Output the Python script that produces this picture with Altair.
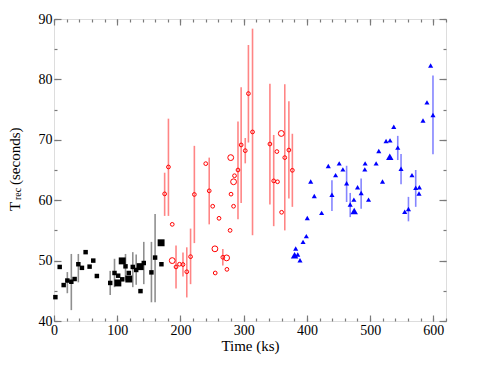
import altair as alt
import pandas as pd

# ---------------- data ----------------
black_t = [2.2, 9.0, 15.3, 21.1, 27.4, 32.6, 38.5, 44.2, 50.0, 56.3, 62.1, 67.8, 88.9, 95.7, 101.0,
           101.5, 107.9, 107.9, 113.1, 118.3, 118.3, 124.6, 130.0, 136.3, 136.8, 142.0, 154.1, 159.9,
           169.4, 169.9]
black_v = [43.95, 48.95, 45.95, 46.7, 46.5, 46.95, 49.4, 48.8, 51.4, 49.0, 50.0, 47.45, 46.3, 47.95,
           46.3, 47.5, 49.95, 46.9, 49.05, 46.95, 47.95, 48.95, 48.45, 49.0, 44.95, 49.6, 48.05, 50.5,
           52.95, 49.4]
black_large = [i in (14, 16, 19, 23, 28) for i in range(len(black_t))]

red_t = [175, 181, 187, 187, 193, 198.5, 204, 210, 216, 222, 240, 245.5, 251, 254.5, 255, 261, 267,
         273, 273.5, 278.5, 279.5, 280, 284, 284, 285.5, 291, 296, 302.5, 307.5, 314, 341.5, 347.5,
         352.5, 353.5, 359.5, 360, 365, 371.5, 377]
red_v = [61.05, 65.5, 56.0, 50.0, 48.95, 49.4, 49.35, 48.15, 50.65, 60.95, 66.05, 61.55, 59.0, 51.95,
         47.95, 57.0, 50.55, 50.45, 48.55, 55.0, 67.05, 61.0, 59.0, 63.05, 64.05, 65.0, 69.15, 68.2,
         77.65, 71.3, 69.3, 63.2, 68.05, 63.05, 71.05, 58.0, 67.05, 68.3, 64.95]
red_large = [i in (3, 13, 17, 20, 23, 34) for i in range(len(red_t))]

blue_t = [382.3, 380.5, 385.5, 389.1, 393.9, 399.1, 400.6, 406.0, 411.7, 423.3, 433.8, 439.6, 445.4,
          451.1, 456.9, 462.8, 468.5, 474.3, 474.8, 480.1, 485.8, 491.6, 492.1, 497.5, 509.5, 513.7,
          519.6, 525.2, 531.5, 531.1, 537.4, 543.7, 548.9, 554.7, 560.6, 566.2, 572.1, 577.9, 577.3,
          583.6, 589.9, 595.7, 599.4]
blue_v = [52.0, 50.9, 51.0, 50.05, 53.1, 54.05, 57.05, 63.1, 60.7, 57.9, 65.65, 60.9, 64.15, 66.1,
          65.1, 62.8, 59.3, 60.1, 58.2, 62.15, 61.2, 65.1, 66.1, 60.1, 66.1, 68.15, 63.1, 69.8, 69.9,
          67.2, 72.15, 68.7, 65.2, 58.1, 58.55, 64.15, 62.05, 62.15, 61.1, 73.2, 76.2, 82.3, 74.1]
blue_large = [i in (1, 18, 29) for i in range(len(blue_t))]

err_series = (["black"] * 11) + (["red"] * 19) + (["blue"] * 9)
err_t = [21.1, 27.4, 38.5, 88.9, 95.7, 113.1, 124.6, 130.0, 142.0, 154.1, 159.9,
         175, 181, 193, 204, 210, 216, 222, 245.5, 267, 291, 296, 302.5, 307.5, 314, 341.5, 347.5,
         365, 371.5, 377,
         439.6, 462.8, 468.5, 485.8, 543.7, 548.9, 560.6, 572.1, 599.4]
err_lo = [44.6, 41.8, 46.4, 44.3, 45.6, 46.7, 45.6, 46.0, 46.1, 43.1, 43.1,
          57.4, 57.4, 45.4, 47.35, 43.9, 46.1, 52.9, 56.0, 49.2, 56.85, 59.55, 66.1, 69.55, 54.2,
          59.3, 55.7, 55.0, 60.3, 58.9,
          58.2, 59.7, 57.2, 58.6, 66.65, 62.65, 56.5, 58.9, 67.6]
err_hi = [48.1, 51.1, 51.1, 48.3, 50.3, 51.1, 51.4, 51.0, 53.1, 53.1, 57.7,
          64.55, 73.5, 52.5, 51.35, 52.2, 55.3, 69.0, 67.05, 51.9, 73.05, 78.7, 70.3, 85.7, 88.4,
          79.3, 70.8, 79.2, 76.4, 71.0,
          63.3, 65.7, 61.2, 63.6, 70.65, 67.65, 60.55, 65.0, 80.65]

x_major = [0, 100, 200, 300, 400, 500, 600]
x_minor = list(range(0, 621, 20))
y_major = [40, 50, 60, 70, 80, 90]
y_minor = list(range(40, 91, 5))

x_title = "Time (ks)"
y_title_parts = ["T", "rec", "(seconds)"]

# ---------------- layout / style ----------------
FONT = "Liberation Serif"
W, H = 392, 302
XDOM = [0, 620]
YDOM = [40, 90]
FRAME = "#7a7a7a"

df_black = pd.DataFrame({"t": black_t, "v": black_v, "large": black_large})
df_red = pd.DataFrame({"t": red_t, "v": red_v, "large": red_large})
df_blue = pd.DataFrame({"t": blue_t, "v": blue_v, "large": blue_large})
df_err = pd.DataFrame({"series": err_series, "t": err_t, "lo": err_lo, "hi": err_hi})

tick_style = dict(domain=False, grid=False, tickColor=FRAME, tickWidth=1.2)


def xenc(axis):
    return alt.X("t:Q", scale=alt.Scale(domain=XDOM, nice=False, zero=False), axis=axis)


def yenc(field, axis):
    return alt.Y(f"{field}:Q", scale=alt.Scale(domain=YDOM, nice=False, zero=False), axis=axis)


ax_bottom = alt.Axis(orient="bottom", values=x_major, tickSize=6, offset=-6, labelFont=FONT,
                     labelFontSize=14, labelColor="black", labelPadding=2, labelFlush=False,
                     title=x_title, titleFont=FONT, titleFontSize=15, titleFontWeight="normal",
                     titleColor="black", titlePadding=1, **tick_style)
ax_left = alt.Axis(orient="left", values=y_major, tickSize=7, offset=-7, labelFont=FONT,
                   labelFontSize=14, labelColor="black", labelPadding=2, labelFlush=False,
                   title="", **tick_style)
ax_bottom_minor = alt.Axis(orient="bottom", values=x_minor, tickSize=3, offset=-3, labels=False,
                           title="", **tick_style)
ax_left_minor = alt.Axis(orient="left", values=y_minor, tickSize=3, offset=-3, labels=False,
                         title="", **tick_style)
ax_top = alt.Axis(orient="top", values=x_major, tickSize=6, offset=-6, labels=False, title="",
                  **tick_style)
ax_right = alt.Axis(orient="right", values=y_major, tickSize=7, offset=-7, labels=False, title="",
                    **tick_style)
ax_top_minor = alt.Axis(orient="top", values=x_minor, tickSize=3, offset=-3, labels=False,
                        title="", **tick_style)
ax_right_minor = alt.Axis(orient="right", values=y_minor, tickSize=3, offset=-3, labels=False,
                          title="", **tick_style)

rules = alt.Chart(df_err).mark_rule(strokeWidth=1.6, opacity=0.55).encode(
    x=xenc(ax_bottom),
    y=yenc("lo", ax_left),
    y2="hi:Q",
    color=alt.Color("series:N", scale=alt.Scale(domain=["black", "red", "blue"],
                                                range=["#333333", "#ff2020", "#2020ff"]),
                    legend=None),
)

black_pts = alt.Chart(df_black).mark_point(shape="square", filled=True, color="black",
                                           opacity=1).encode(
    x=xenc(ax_bottom_minor),
    y=yenc("v", ax_left_minor),
    size=alt.Size("large:N", scale=alt.Scale(domain=[False, True], range=[20, 48]), legend=None),
)

red_pts = alt.Chart(df_red).mark_point(shape="circle", filled=False, color="#ff0000",
                                       strokeWidth=1, opacity=1).encode(
    x=xenc(ax_top),
    y=yenc("v", ax_right),
    size=alt.Size("large:N", scale=alt.Scale(domain=[False, True], range=[14, 34]), legend=None),
)

blue_pts = alt.Chart(df_blue).mark_point(shape="triangle-up", filled=True, color="#0000ff",
                                         opacity=1).encode(
    x=xenc(ax_top_minor),
    y=yenc("v", ax_right_minor),
    size=alt.Size("large:N", scale=alt.Scale(domain=[False, True], range=[26, 56]), legend=None),
)

t1 = alt.Chart(pd.DataFrame({"s": [y_title_parts[0]]})).mark_text(
    angle=270, align="left", baseline="middle", font=FONT, fontSize=15, color="black").encode(
    text="s:N", x=alt.value(-39), y=alt.value(192))
t2 = alt.Chart(pd.DataFrame({"s": [y_title_parts[1]]})).mark_text(
    angle=270, align="left", baseline="middle", font=FONT, fontSize=10, color="black").encode(
    text="s:N", x=alt.value(-36), y=alt.value(181))
t3 = alt.Chart(pd.DataFrame({"s": [y_title_parts[2]]})).mark_text(
    angle=270, align="left", baseline="middle", font=FONT, fontSize=15, color="black").encode(
    text="s:N", x=alt.value(-39), y=alt.value(166))

chart = alt.layer(rules, black_pts, red_pts, blue_pts, t1, t2, t3).resolve_scale(
    x="independent", y="independent", size="independent"
).resolve_axis(
    x="independent", y="independent"
).properties(
    width=W, height=H,
    padding={"left": 46, "top": 11, "right": 30, "bottom": 40},
    autosize=alt.AutoSizeParams(type="none"),
).configure_view(
    stroke=FRAME, strokeWidth=1.5
).configure(background="white")

chart.save("out.html", embed_options={"renderer": "svg", "actions": False})
